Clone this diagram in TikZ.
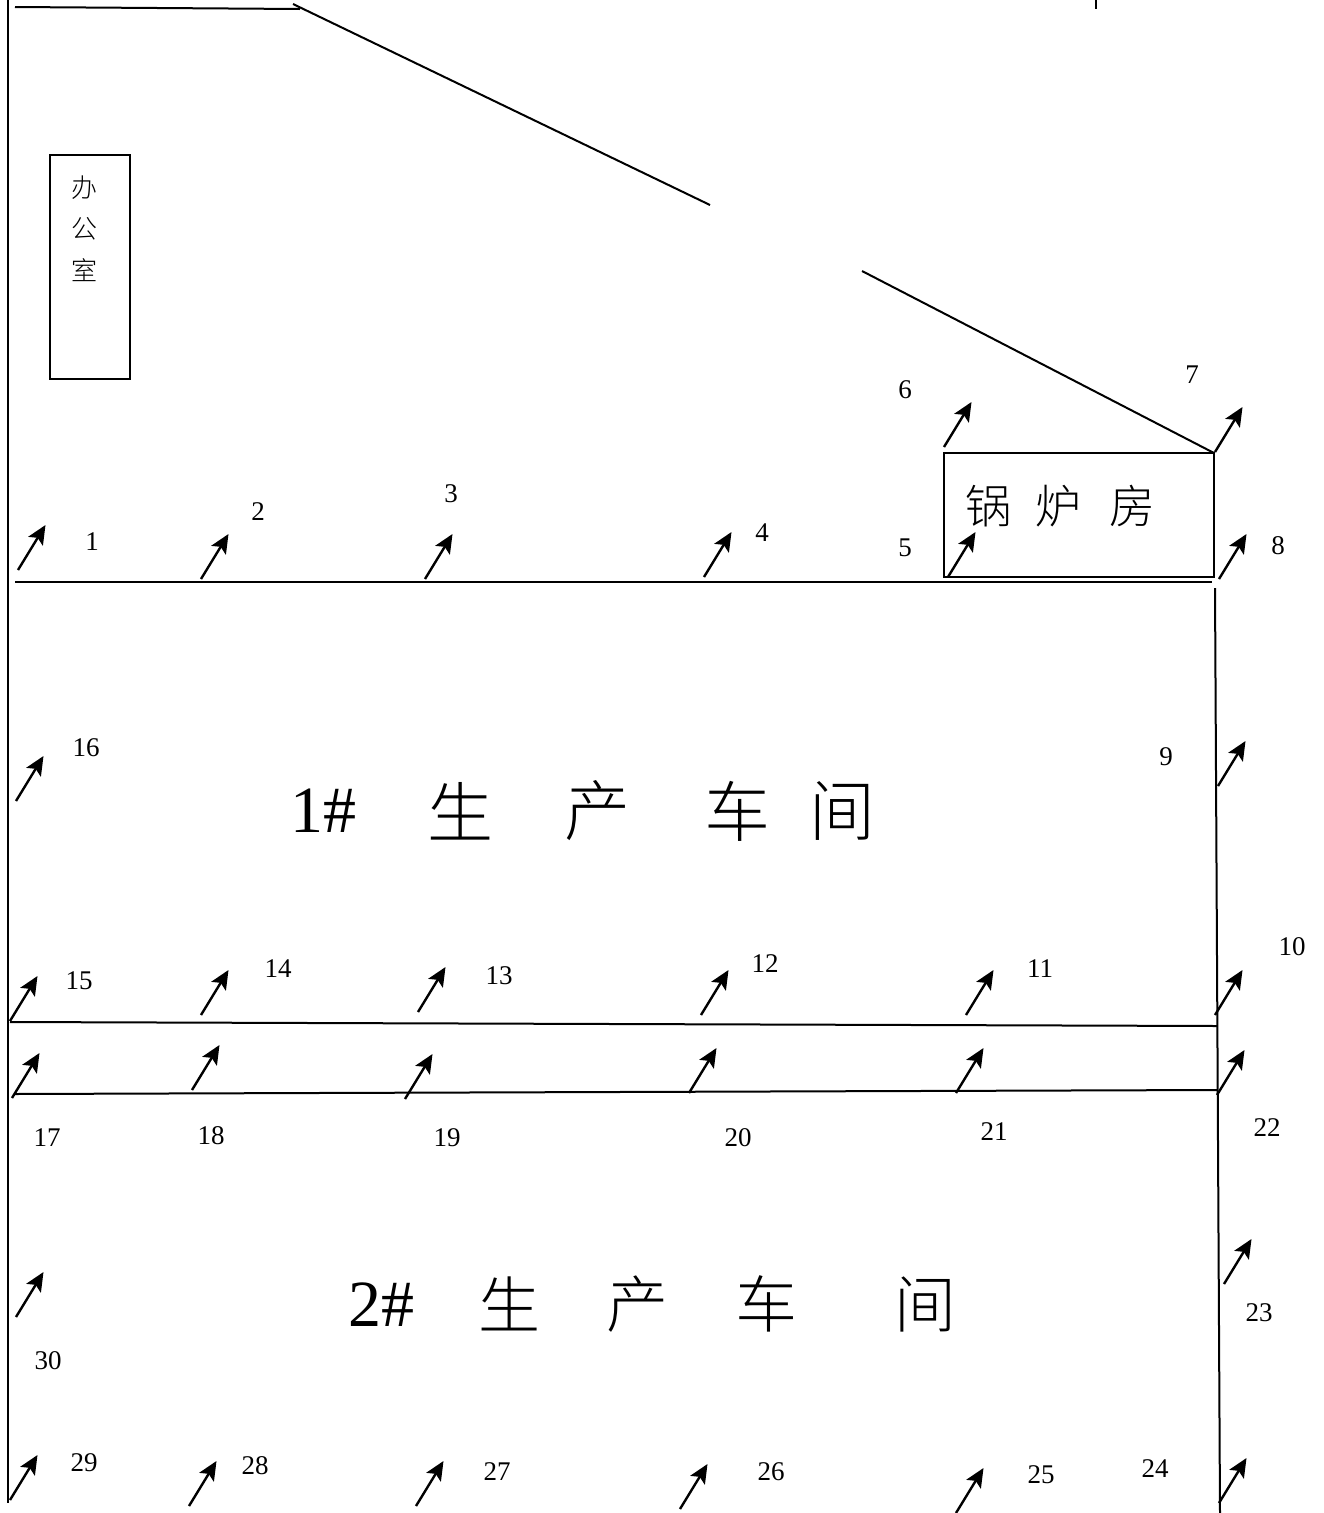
\documentclass[tikz,border=0pt]{standalone}
\usepackage{fontspec}
\setmainfont{Liberation Serif}
\newfontfamily\cjk[UprightFont={* Light}]{Noto Sans CJK SC}
\usetikzlibrary{arrows.meta,calc}
\tikzset{
  x=1pt,y=-1pt,
  wall/.style={line width=2pt,black},
  vent/.style={line width=2.4pt,black,-{Stealth[length=19pt,width=17pt,inset=4pt]}},
  num/.style={font=\fontsize{27}{27}\selectfont,inner sep=0pt},
}
\newcommand{\ventat}[3]{%
  \coordinate (s#1) at (#2,#3);
  \coordinate (e#1) at ($(#2,#3)+(27.5,-45)$);
  \draw[vent] (s#1) -- (e#1);}
\begin{document}
\begin{tikzpicture}
\useasboundingbox (0,0) rectangle (1323,1513);
\fill[white] (0,0) rectangle (1323,1513);
\coordinate (a1) at (8,0); \coordinate (a2) at (8,1503);
\draw[wall,line width=2.4pt] (a1) -- (a2);
\coordinate (b1) at (15,7); \coordinate (b2) at (300,9);
\draw[wall] (b1) -- (b2);
\coordinate (c1) at (293,4); \coordinate (c2) at (710,205);
\draw[wall] (c1) -- (c2);
\coordinate (d1) at (862,271); \coordinate (d2) at (1214,453);
\draw[wall] (d1) -- (d2);
\coordinate (t1) at (1096,0); \coordinate (t2) at (1096,9);
\draw[wall] (t1) -- (t2);
\node[draw,line width=2.2pt,minimum width=80pt,minimum height=224pt,inner sep=0pt] (office) at (90,267) {};
\node[inner sep=0pt,font=\fontsize{26}{26}\cjk] (o1) at (84,188) {办};
\node[inner sep=0pt,font=\fontsize{26}{26}\cjk] (o2) at (84,229) {公};
\node[inner sep=0pt,font=\fontsize{26}{26}\cjk] (o3) at (84,270) {室};
\node[draw,line width=2.2pt,minimum width=270pt,minimum height=124pt,inner sep=0pt] (boiler) at (1079,515) {};
\node[inner sep=0pt,font=\fontsize{46}{46}\cjk] (b1t) at (988,506) {锅};
\node[inner sep=0pt,font=\fontsize{46}{46}\cjk] (b2t) at (1058,506) {炉};
\node[inner sep=0pt,font=\fontsize{46}{46}\cjk] (b3t) at (1132,506) {房};
\coordinate (l1) at (15,582); \coordinate (l2) at (1212,582);
\draw[wall] (l1) -- (l2);
\coordinate (r1) at (1215,588); \coordinate (r2) at (1220,1513);
\draw[wall] (r1) -- (r2);
\coordinate (m1) at (10,1022); \coordinate (m2) at (1217,1026);
\draw[wall] (m1) -- (m2);
\coordinate (n1) at (14,1094); \coordinate (n2) at (1217,1090);
\draw[wall] (n1) -- (n2);
\node[inner sep=0pt,font=\fontsize{66}{66}\selectfont] (w1a) at (323,811) {1\#};
\node[inner sep=0pt,font=\fontsize{66}{66}\cjk] (w1b) at (460,811) {生};
\node[inner sep=0pt,font=\fontsize{66}{66}\cjk] (w1c) at (597,811) {产};
\node[inner sep=0pt,font=\fontsize{66}{66}\cjk] (w1d) at (737,811) {车};
\node[inner sep=0pt,font=\fontsize{66}{66}\cjk] (w1e) at (842,811) {间};
\node[inner sep=0pt,font=\fontsize{66}{66}\selectfont] (w2a) at (381,1305) {2\#};
\node[inner sep=0pt,font=\fontsize{62}{62}\cjk] (w2b) at (509,1304) {生};
\node[inner sep=0pt,font=\fontsize{62}{62}\cjk] (w2c) at (637,1304) {产};
\node[inner sep=0pt,font=\fontsize{62}{62}\cjk] (w2d) at (766,1304) {车};
\node[inner sep=0pt,font=\fontsize{62}{62}\cjk] (w2e) at (925,1304) {间};
\foreach \n/\x/\y in {a/18/570,b/201/579,c/425/579,d/704/577,e/948/577,f/944/447,g/1215/452,h/1219/579,i/1218/786,j/1215/1015,k/966/1015,l/701/1015,m/418/1012,n/201/1015,o/10/1021,p/16/801,q/12/1098,r/192/1090,s/405/1099,t/689/1093,u/956/1093,v/1217/1095,w/1224/1284,x/1219/1503,y/956/1513,z/680/1509,A/416/1506,B/189/1506,C/10/1500,D/16/1317}{
  \ventat{\n}{\x}{\y}
}
\foreach \t/\x/\y in {1/92/542,2/258/512,3/451/494,4/762/533,5/905/548,6/905/390,7/1192/375,8/1278/546,9/1166/757,10/1292/947,11/1040/969,12/765/964,13/499/976,14/278/969,15/79/981,16/86/748,17/47/1138,18/211/1136,19/447/1138,20/738/1138,21/994/1132,22/1267/1128,23/1259/1313,24/1155/1469,25/1041/1475,26/771/1472,27/497/1472,28/255/1466,29/84/1463,30/48/1361}{
  \node[num] (n\t) at (\x,\y) {\t};
}
\end{tikzpicture}
\end{document}
